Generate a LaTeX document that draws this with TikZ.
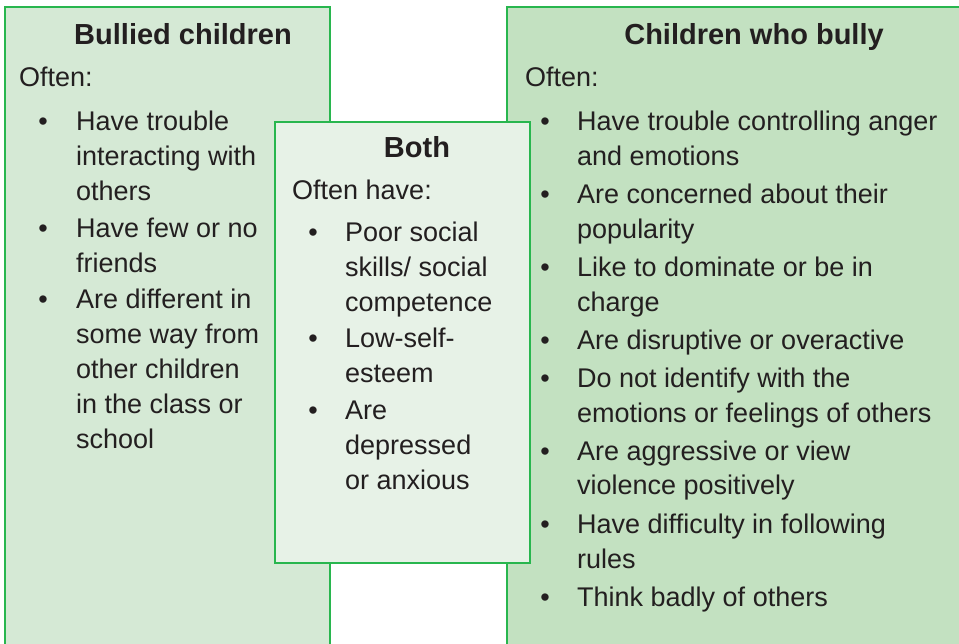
\documentclass[tikz,border=0pt]{standalone}
\usepackage{fontspec}
\setmainfont{Liberation Sans}
\definecolor{lfill}{RGB}{213,233,213}
\definecolor{rfill}{RGB}{195,225,193}
\definecolor{mfill}{RGB}{231,242,231}
\definecolor{bgreen}{RGB}{40,182,78}
\definecolor{txt}{RGB}{35,31,32}
\newcommand\mylines[1]{\vtop{\halign{##\hfil\cr#1\crcr}}}
\tikzset{
  boxframe/.style={draw=bgreen,line width=2.6pt},
  ttl/.style={font=\fontsize{29}{35}\selectfont\bfseries,text=txt,inner sep=0pt,anchor=base},
  body/.style={font=\fontsize{27}{35}\selectfont,text=txt,inner sep=0pt,anchor=base west},
  bul/.style={font=\fontsize{27}{35}\selectfont,text=txt,inner sep=0pt,anchor=base},
}
\begin{document}
\begin{tikzpicture}[x=1pt,y=-1pt]
\useasboundingbox (0,0) rectangle (959,644);
\clip (0,0) rectangle (959,644);
\fill[white] (0,0) rectangle (959,644);
% boxes
\draw[boxframe,fill=lfill] (5,7) rectangle (330,670);
\draw[boxframe,fill=rfill] (507,7) rectangle (985,670);
\draw[boxframe,fill=mfill] (275,122) rectangle (530,563);
% left box
\node[ttl] (lt) at (183,45) {Bullied children};
\node[body] (lo) at (19,87) {Often:};
\node[bul] (lb1) at (43,131) {•};
\node[body] (l1) at (76,131) {\mylines{Have trouble\cr interacting with\cr others}};
\node[bul] (lb2) at (43,238) {•};
\node[body] (l2) at (76,238) {\mylines{Have few or no\cr friends}};
\node[bul] (lb3) at (43,309) {•};
\node[body] (l3) at (76,309) {\mylines{Are different in\cr some way from\cr other children\cr in the class or\cr school}};
% middle box
\node[ttl] (mt) at (417,158) {Both};
\node[body] (mo) at (292,200) {Often have:};
\node[bul] (mb1) at (313,242) {•};
\node[body] (m1) at (345,242) {\mylines{Poor social\cr skills/ social\cr competence}};
\node[bul] (mb2) at (313,348) {•};
\node[body] (m2) at (345,348) {\mylines{Low-self-\cr esteem}};
\node[bul] (mb3) at (313,420) {•};
\node[body] (m3) at (345,420) {\mylines{Are\cr depressed\cr or anxious}};
% right box
\node[ttl] (rt) at (754,45) {Children who bully};
\node[body] (ro) at (525,87) {Often:};
\node[bul] (rb1) at (545,131) {•};
\node[body] (r1) at (577,131) {\mylines{Have trouble controlling anger\cr and emotions}};
\node[bul] (rb2) at (545,204) {•};
\node[body] (r2) at (577,204) {\mylines{Are concerned about their\cr popularity}};
\node[bul] (rb3) at (545,277) {•};
\node[body] (r3) at (577,277) {\mylines{Like to dominate or be in\cr charge}};
\node[bul] (rb4) at (545,350) {•};
\node[body] (r4) at (577,350) {Are disruptive or overactive};
\node[bul] (rb5) at (545,388) {•};
\node[body] (r5) at (577,388) {\mylines{Do not identify with the\cr emotions or feelings of others}};
\node[bul] (rb6) at (545,460) {•};
\node[body] (r6) at (577,460) {\mylines{Are aggressive or view\cr violence positively}};
\node[bul] (rb7) at (545,533) {•};
\node[body] (r7) at (577,533) {\mylines{Have difficulty in following\cr rules}};
\node[bul] (rb8) at (545,606) {•};
\node[body] (r8) at (577,606) {Think badly of others};
\end{tikzpicture}
\end{document}
